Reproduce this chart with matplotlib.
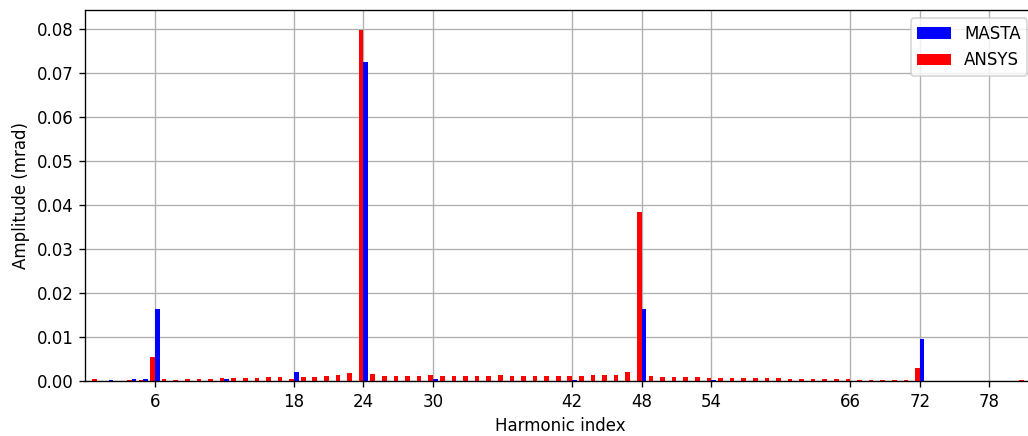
import numpy as np
import matplotlib
matplotlib.use("Agg")
import matplotlib.pyplot as plt

# harmonic indices 1..81
harmonics = np.arange(1, 82)

# ANSYS amplitudes (mrad), one per harmonic 1..81
ansys = [
    0.00045, 0.0, 0.0, 0.0002, 0.0003, 0.0055, 0.00045, 0.0003, 0.00045, 0.00045,
    0.00045, 0.0007, 0.0007, 0.0007, 0.0007, 0.0009, 0.0009, 0.00045, 0.0009, 0.0009,
    0.0011, 0.0014, 0.0018, 0.0797, 0.0017, 0.0011, 0.0011, 0.0011, 0.0011, 0.0014,
    0.0011, 0.0011, 0.0011, 0.0011, 0.0011, 0.0014, 0.0011, 0.0011, 0.0011, 0.0011,
    0.0011, 0.0011, 0.0011, 0.0014, 0.0014, 0.0014, 0.002, 0.0385, 0.0011, 0.0009,
    0.0009, 0.0009, 0.0009, 0.0007, 0.0007, 0.0007, 0.0007, 0.0007, 0.0007, 0.0007,
    0.00045, 0.00045, 0.00045, 0.00045, 0.00045, 0.00045, 0.0002, 0.0002, 0.0002, 0.0002,
    0.0002, 0.003, 0.0, 0.0, 0.0, 0.0, 0.0, 0.0, 0.0, 0.0,
    0.0002,
]

# MASTA amplitudes (mrad), only the harmonics it reports
masta_harmonics = [2, 4, 5, 6, 12, 18, 24, 30, 42, 48, 54, 72]
masta = [0.0002, 0.00045, 0.00045, 0.0164, 0.00045, 0.002, 0.0725, 0.00045,
         0.0002, 0.0164, 0.0002, 0.0095]

xticks = [6, 18, 24, 30, 42, 48, 54, 66, 72, 78]

width = 0.4
# saved at 120 dpi -> 1028x436 px; the axes run slightly past the right edge
fig = plt.figure(figsize=(1028 / 120, 436 / 120), dpi=120)
ax = fig.add_axes([0.083, 0.126, 0.9245, 0.851])

ax.bar(np.array(masta_harmonics) + width / 2, masta, width, color='blue', label='MASTA')
ax.bar(harmonics - width / 2, ansys, width, color='red', label='ANSYS')

ax.set_xticks(xticks)
ax.set_xlim(0, 82)
ax.set_ylim(0, 0.0843)
ax.set_yticks(np.arange(0, 0.081, 0.01))
ax.yaxis.set_major_formatter(matplotlib.ticker.FormatStrFormatter('%.2f'))
ax.set_xlabel('Harmonic index')
ax.set_ylabel('Amplitude (mrad)')
ax.grid(True)
ax.set_axisbelow(True)
ax.legend(loc='upper right')

fig.savefig('out.png', dpi=120)
